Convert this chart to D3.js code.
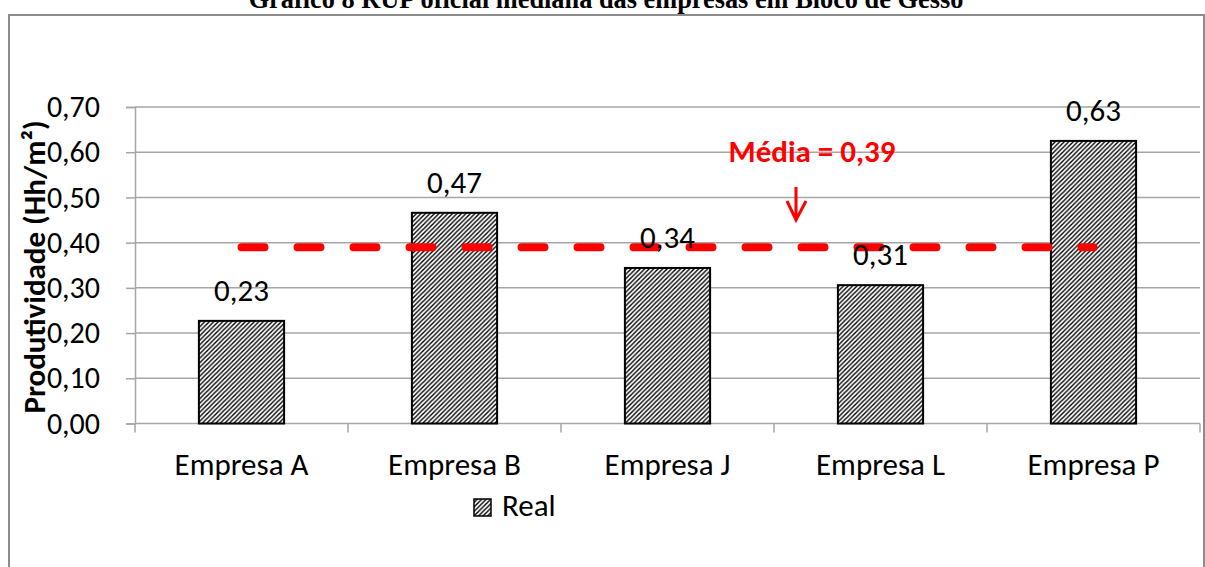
<!DOCTYPE html>
<html>
<head>
<meta charset="utf-8">
<script src="https://cdn.jsdelivr.net/npm/d3@7"></script>
<style>
  body { margin: 0; background: #fff; }
  svg { display: block; }
</style>
</head>
<body>
<script>
let width = 1205, height = 567

let empresas = ['Empresa A', 'Empresa B', 'Empresa J', 'Empresa L', 'Empresa P']
let real = [0.227, 0.466, 0.344, 0.306, 0.625]
let rotulos = ['0,23', '0,47', '0,34', '0,31', '0,63']
let yTicks = [0, 0.1, 0.2, 0.3, 0.4, 0.5, 0.6, 0.7]
let media = 0.39
let titulo = 'Gráfico 8 RUP oficial mediana das empresas em Bloco de Gesso'

let font = 'Carlito, Calibri, Lato, sans-serif'

let svg = d3.select('body').append('svg')
    .attr('width', width)
    .attr('height', height)

// hatch pattern
let defs = svg.append('defs')
let pat = defs.append('pattern')
    .attr('id', 'hatch')
    .attr('patternUnits', 'userSpaceOnUse')
    .attr('width', 4.5).attr('height', 4.5)
pat.append('rect').attr('width', 4.5).attr('height', 4.5).attr('fill', '#fff')
pat.append('path')
    .attr('d', 'M0,4.5 L4.5,0 M-1,1 L1,-1 M3.5,5.5 L5.5,3.5')
    .attr('stroke', '#000')
    .attr('stroke-width', 1.4)

// outer frame
svg.append('rect')
    .attr('x', 9).attr('y', 15)
    .attr('width', 1195).attr('height', 600)
    .attr('fill', 'none')
    .attr('stroke', '#8c8c8c')
    .attr('stroke-width', 2)

// title
let t = svg.append('text')
    .attr('x', 606).attr('y', 8)
    .attr('text-anchor', 'middle')
    .attr('font-family', '"Liberation Serif", "Times New Roman", serif')
    .attr('font-weight', 'bold')
    .attr('font-size', 20)
    .text(titulo)
let tw = t.node().getComputedTextLength()
t.attr('font-size', 20 * 715 / tw)

let x = d3.scaleBand().domain(empresas).range([135, 1200]).paddingInner(0.6).paddingOuter(0.3)
let y = d3.scaleLinear().domain([0, 0.7]).range([423.5, 107])

// gridlines
svg.append('g').selectAll('line')
    .data(yTicks.slice(1))
    .enter().append('line')
    .attr('x1', 135).attr('x2', 1200)
    .attr('y1', d => y(d)).attr('y2', d => y(d))
    .attr('stroke', '#a6a6a6')
    .attr('stroke-width', 1.5)

// y axis
let yAxis = svg.append('g')
    .attr('transform', 'translate(135,0)')
    .call(d3.axisLeft(y).tickValues(yTicks).tickSize(9).tickPadding(26)
        .tickFormat(d => d3.format('.2f')(d).replace('.', ',')))
yAxis.select('.domain').attr('stroke', '#a6a6a6').attr('stroke-width', 1.5)
yAxis.selectAll('.tick line').attr('stroke', '#a6a6a6').attr('stroke-width', 1.5)
yAxis.selectAll('.tick text')
    .attr('font-family', font).attr('font-size', 30).attr('fill', '#000')

// x axis
let xAxis = svg.append('g')
    .attr('transform', 'translate(0,423.5)')
xAxis.append('line')
    .attr('x1', 135).attr('x2', 1200)
    .attr('stroke', '#a6a6a6').attr('stroke-width', 1.5)
let step = x.step()
xAxis.selectAll('line.tk')
    .data(d3.range(empresas.length + 1))
    .enter().append('line')
    .attr('class', 'tk')
    .attr('x1', i => 135 + i * step).attr('x2', i => 135 + i * step)
    .attr('y1', 0).attr('y2', 9)
    .attr('stroke', '#a6a6a6').attr('stroke-width', 1.5)
xAxis.selectAll('text')
    .data(empresas)
    .enter().append('text')
    .attr('x', d => x(d) + x.bandwidth() / 2)
    .attr('y', 51)
    .attr('text-anchor', 'middle')
    .attr('font-family', font).attr('font-size', 31)
    .text(d => d)

// bars
svg.append('g').selectAll('rect')
    .data(real)
    .enter().append('rect')
    .attr('x', (d, i) => x(empresas[i]))
    .attr('y', d => y(d))
    .attr('width', x.bandwidth())
    .attr('height', d => y(0) - y(d))
    .attr('fill', 'url(#hatch)')
    .attr('stroke', '#000')
    .attr('stroke-width', 2)

// mean line
let cx = d => x(d) + x.bandwidth() / 2
svg.append('line')
    .attr('x1', cx(empresas[0])).attr('x2', cx(empresas[4]))
    .attr('y1', y(media)).attr('y2', y(media))
    .attr('stroke', '#ff0000')
    .attr('stroke-width', 8)
    .attr('stroke-linecap', 'round')
    .attr('stroke-dasharray', '23 33')

// data labels
svg.append('g').selectAll('text')
    .data(real)
    .enter().append('text')
    .attr('x', (d, i) => cx(empresas[i]))
    .attr('y', d => y(d) - 20)
    .attr('text-anchor', 'middle')
    .attr('font-family', font).attr('font-size', 31)
    .text((d, i) => rotulos[i])

// mean annotation
svg.append('text')
    .attr('x', 812).attr('y', 162)
    .attr('text-anchor', 'middle')
    .attr('font-family', font).attr('font-size', 31)
    .attr('font-weight', 'bold')
    .attr('fill', '#ff0000')
    .text('Média = ' + d3.format('.2f')(media).replace('.', ','))
svg.append('path')
    .attr('d', 'M796,187 L796,220 M787,201 L796,220 L806,201')
    .attr('fill', 'none')
    .attr('stroke', '#ff0000')
    .attr('stroke-width', 3)

// y axis title
svg.append('text')
    .attr('transform', 'translate(45,267) rotate(-90)')
    .attr('text-anchor', 'middle')
    .attr('font-family', font).attr('font-size', 31)
    .attr('font-weight', 'bold')
    .text('Produtividade (Hh/m²)')

// legend
svg.append('rect')
    .attr('x', 474).attr('y', 499)
    .attr('width', 17).attr('height', 17)
    .attr('fill', 'url(#hatch)')
    .attr('stroke', '#000').attr('stroke-width', 1.5)
svg.append('text')
    .attr('x', 502).attr('y', 516)
    .attr('font-family', font).attr('font-size', 31)
    .text('Real')
</script>
</body>
</html>
